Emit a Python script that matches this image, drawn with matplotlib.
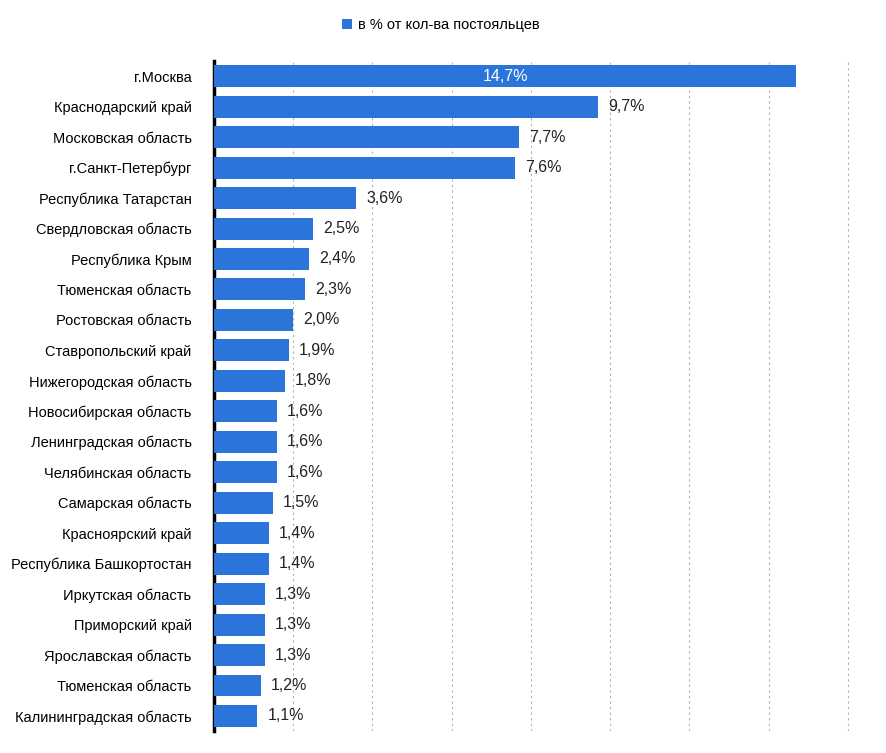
import matplotlib
matplotlib.use("Agg")
import matplotlib.pyplot as plt

regions = ["г.Москва","Краснодарский край","Московская область","г.Санкт-Петербург",
"Республика Татарстан","Свердловская область","Республика Крым","Тюменская область",
"Ростовская область","Ставропольский край","Нижегородская область","Новосибирская область",
"Ленинградская область","Челябинская область","Самарская область","Красноярский край",
"Республика Башкортостан","Иркутская область","Приморский край","Ярославская область",
"Тюменская область","Калининградская область"]
values = [14.7,9.7,7.7,7.6,3.6,2.5,2.4,2.3,2.0,1.9,1.8,1.6,1.6,1.6,1.5,1.4,1.4,1.3,1.3,1.3,1.2,1.1]
series_name = "в % от кол-ва постояльцев"

plt.rcParams['font.family'] = ['Liberation Sans', 'DejaVu Sans']
color = "#2b74d9"
fig = plt.figure(figsize=(8.87, 7.53), dpi=100)
ax = fig.add_axes([0.241, 0.029, 0.7195, 0.890])
y = list(range(len(values)))
bars = ax.barh(y, values, height=0.72, color=color, label=series_name, zorder=3)
ax.set_ylim(len(values)-0.5, -0.5)
ax.set_xlim(0, 16.1)
ax.set_yticks(y)
ax.set_yticklabels(regions, fontsize=10.5)
ax.set_xticks([2,4,6,8,10,12,14,16])
ax.tick_params(axis='x', length=0, labelbottom=False)
ax.tick_params(axis='y', length=0, pad=16)
ax.grid(axis='x', color='#b0b0b0', linestyle=(0,(2,3)), linewidth=0.8, zorder=0)
for s in ['top','right','bottom']:
    ax.spines[s].set_visible(False)
ax.spines['left'].set_linewidth(2.5)
for i, v in enumerate(values):
    t = f"{v:.1f}".replace('.', ',') + "%"
    if i == 0:
        ax.text(v/2, i, t, color='white', ha='center', va='center', fontsize=11.5, zorder=4)
    else:
        ax.text(v+0.25, i, t, color='#222222', ha='left', va='center', fontsize=11.5, zorder=4)
fig.legend(handles=[bars], labels=[series_name], loc='center', bbox_to_anchor=(0.497, 0.967),
           frameon=False, fontsize=10.5, handlelength=0.7, handleheight=0.7, handletextpad=0.4)
fig.savefig("out.png", dpi=100)
